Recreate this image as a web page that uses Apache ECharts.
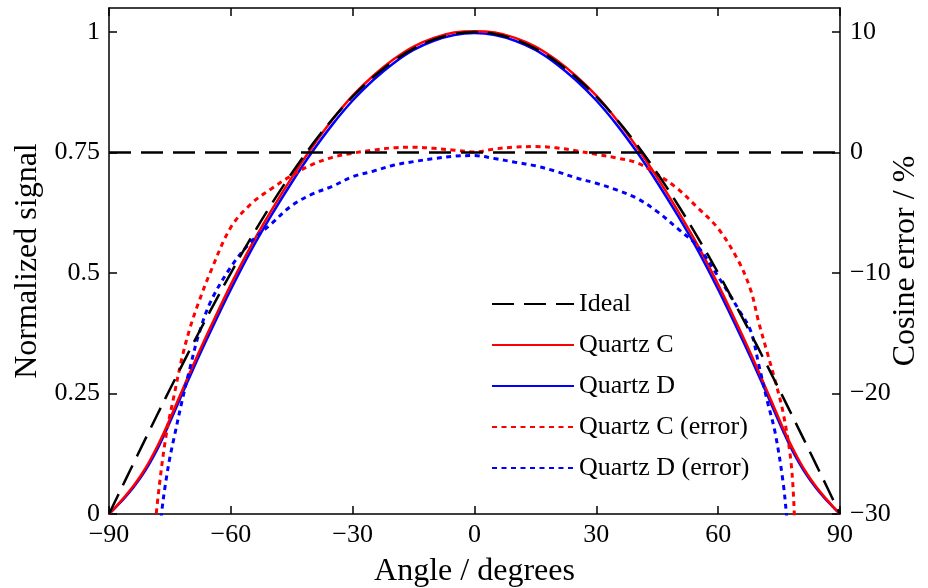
<!DOCTYPE html>
<html>
<head>
<meta charset="utf-8">
<script src="https://cdn.jsdelivr.net/npm/echarts@6/dist/echarts.min.js"></script>
<style>
  html, body { margin: 0; padding: 0; background: #fff; overflow: hidden; }
  #chart { width: 928px; height: 588px; }
</style>
</head>
<body>
<div id="chart"></div>
<script>
// Axis ticks
const xTicks = [-90, -60, -30, 0, 30, 60, 90];
const signalTicks = [0, 0.25, 0.5, 0.75, 1];
const errorTicks = [-30, -20, -10, 0, 10];

// Angular response (degrees) and normalized signal
const signalAngles = [-90, -88, -86, -84, -82, -80, -78, -76, -74, -72, -70, -68, -65, -60, -55, -50, -45, -40, -35, -30, -25, -20, -15, -10, -5, 0,
                      5, 10, 15, 20, 25, 30, 35, 40, 45, 50, 55, 60, 65, 68, 70, 72, 74, 76, 78, 80, 82, 84, 86, 88, 90];
const ideal = [0, 0.0349, 0.0698, 0.1045, 0.1392, 0.1736, 0.2079, 0.2419, 0.2756, 0.3090, 0.3420, 0.3746, 0.4226, 0.5, 0.5736, 0.6428, 0.7071, 0.7660, 0.8192, 0.8660, 0.9063, 0.9397, 0.9659, 0.9848, 0.9962, 1,
               0.9962, 0.9848, 0.9659, 0.9397, 0.9063, 0.8660, 0.8192, 0.7660, 0.7071, 0.6428, 0.5736, 0.5, 0.4226, 0.3746, 0.3420, 0.3090, 0.2756, 0.2419, 0.2079, 0.1736, 0.1392, 0.1045, 0.0698, 0.0349, 0];
const quartzC = [0, 0.018, 0.037, 0.058, 0.082, 0.110, 0.142, 0.178, 0.217, 0.256, 0.295, 0.333, 0.388, 0.476, 0.557, 0.630, 0.698, 0.761, 0.818, 0.868, 0.909, 0.943, 0.970, 0.988, 0.999, 1.002,
                 0.999, 0.988, 0.970, 0.943, 0.909, 0.868, 0.818, 0.761, 0.698, 0.630, 0.557, 0.476, 0.388, 0.333, 0.295, 0.256, 0.217, 0.178, 0.142, 0.110, 0.082, 0.058, 0.037, 0.018, 0];
const quartzD = [0, 0.017, 0.035, 0.055, 0.078, 0.105, 0.136, 0.172, 0.210, 0.249, 0.287, 0.325, 0.379, 0.466, 0.547, 0.620, 0.688, 0.751, 0.808, 0.858, 0.900, 0.935, 0.963, 0.982, 0.994, 0.998,
                 0.994, 0.982, 0.963, 0.935, 0.900, 0.858, 0.808, 0.751, 0.688, 0.620, 0.547, 0.466, 0.379, 0.325, 0.287, 0.249, 0.210, 0.172, 0.136, 0.105, 0.078, 0.055, 0.035, 0.017, 0];

// Cosine error (%)
const errCAngles = [-80, -79, -78, -76, -74, -72, -70, -68, -65, -60, -55, -50, -45, -40, -35, -30, -25, -20, -15, -10, -5, 0,
                    5, 10, 15, 20, 25, 30, 35, 40, 45, 50, 55, 60, 65, 68, 70, 72, 74, 76, 78, 79, 80];
const errC = [-37, -32.5, -28.8, -23.6, -20.2, -17.0, -14.5, -12.5, -9.9, -6.2, -4.25, -3.0, -1.9, -1.0, -0.4, -0.05, 0.2, 0.4, 0.45, 0.35, 0.2, 0.05,
              0.3, 0.45, 0.5, 0.4, 0.15, -0.15, -0.45, -0.85, -1.8, -3.0, -4.6, -6.3, -9.0, -11.4, -14.1, -16.5, -18.9, -21.6, -25.9, -31.8, -38];
const errDAngles = [-79, -78, -77, -76, -75, -74, -72, -70, -68, -65, -60, -55, -50, -45, -40, -35, -30, -25, -20, -15, -10, -5, 0,
                    5, 10, 15, 20, 25, 30, 35, 40, 45, 50, 55, 60, 65, 68, 70, 72, 74, 76, 77, 78];
const errD = [-39, -34, -29.8, -27.3, -25.3, -23.7, -20.6, -17.8, -15.2, -12.4, -9.5, -7.4, -5.9, -4.4, -3.45, -2.8, -2.0, -1.55, -1.05, -0.75, -0.5, -0.3, -0.25,
              -0.5, -0.8, -1.1, -1.55, -2.1, -2.55, -3.1, -3.8, -4.9, -6.3, -7.8, -10.3, -13.0, -14.8, -17.6, -20.5, -23.2, -27.4, -30.8, -35];
const idealErrAngles = [-90, 90];
const idealErr = [0, 0];

const pairs = (xs, ys) => xs.map((x, i) => [x, ys[i]]);
const minus = v => String(v).replace('-', '\u2212');

const FONT = 'Liberation Serif';
const axisLine = { show: true, onZero: false, lineStyle: { color: '#000', width: 1.5 } };
const axisTick = { show: true, inside: true, length: 8, lineStyle: { color: '#000', width: 1.5 } };
const labelStyle = { color: '#000', fontFamily: FONT, fontSize: 26 };
const nameStyle = { color: '#000', fontFamily: FONT, fontSize: 32 };

const DASH = [22, 10];
const DOT = [5, 4.5];
const NO_MARK = { color: 'rgba(0,0,0,0)', borderWidth: 0 };

const chart = echarts.init(document.getElementById('chart'), null, { renderer: 'canvas' });
chart.setOption({
  animation: false,
  backgroundColor: '#fff',
  grid: { left: 109, right: 88, top: 8, bottom: 74, containLabel: false, outerBoundsMode: 'none' },
  legend: {
    orient: 'vertical',
    left: 486,
    top: 286,
    itemWidth: 82,
    itemHeight: 14,
    itemGap: 15,
    textStyle: { color: '#000', fontFamily: FONT, fontSize: 26 },
    itemStyle: { color: 'rgba(0,0,0,0)', borderWidth: 0 },
    data: ['Ideal', 'Quartz C', 'Quartz D', 'Quartz C (error)', 'Quartz D (error)']
  },
  xAxis: [
    {
      type: 'value', position: 'bottom',
      min: xTicks[0], max: xTicks[xTicks.length - 1], interval: xTicks[1] - xTicks[0],
      name: 'Angle / degrees', nameLocation: 'middle', nameGap: 42, nameMoveOverlap: false, nameTextStyle: nameStyle,
      axisLine, axisTick,
      axisLabel: { ...labelStyle, margin: 8, formatter: minus },
      splitLine: { show: false }
    },
    {
      type: 'value', position: 'top',
      min: xTicks[0], max: xTicks[xTicks.length - 1], interval: xTicks[1] - xTicks[0],
      axisLine, axisTick, axisLabel: { show: false }, splitLine: { show: false }
    }
  ],
  yAxis: [
    {
      type: 'value', position: 'left',
      min: signalTicks[0], max: 1.05, interval: signalTicks[1] - signalTicks[0],
      name: 'Normalized signal', nameLocation: 'middle', nameGap: 65, nameMoveOverlap: false, nameTextStyle: nameStyle,
      axisLine, axisTick,
      axisLabel: { ...labelStyle, margin: 9, showMaxLabel: false, formatter: v => String(v) },
      splitLine: { show: false }
    },
    {
      type: 'value', position: 'right',
      min: errorTicks[0], max: 12, interval: errorTicks[1] - errorTicks[0],
      name: 'Cosine error / %', nameLocation: 'middle', nameGap: 50, nameMoveOverlap: false, nameTextStyle: nameStyle,
      axisLine, axisTick,
      axisLabel: { ...labelStyle, margin: 10, showMaxLabel: false, formatter: minus },
      splitLine: { show: false }
    }
  ],
  series: [
    {
      name: 'Quartz C', type: 'line', yAxisIndex: 0, smooth: 0.35, showSymbol: false, symbol: 'none',
      data: pairs(signalAngles, quartzC), z: 3,
      lineStyle: { color: '#ff0000', width: 2.5, type: 'solid' }, itemStyle: NO_MARK
    },
    {
      name: 'Quartz D', type: 'line', yAxisIndex: 0, smooth: 0.35, showSymbol: false, symbol: 'none',
      data: pairs(signalAngles, quartzD), z: 2,
      lineStyle: { color: '#0000ff', width: 2.5, type: 'solid' }, itemStyle: NO_MARK
    },
    {
      name: 'Quartz C (error)', type: 'line', yAxisIndex: 1, smooth: 0.35, showSymbol: false, symbol: 'none',
      data: pairs(errCAngles, errC), z: 4,
      lineStyle: { color: '#ff0000', width: 3, type: DOT }, itemStyle: NO_MARK
    },
    {
      name: 'Quartz D (error)', type: 'line', yAxisIndex: 1, smooth: 0.35, showSymbol: false, symbol: 'none',
      data: pairs(errDAngles, errD), z: 4,
      lineStyle: { color: '#0000ff', width: 3, type: DOT }, itemStyle: NO_MARK
    },
    {
      name: 'Ideal', type: 'line', yAxisIndex: 0, smooth: 0.35, showSymbol: false, symbol: 'none',
      data: pairs(signalAngles, ideal), z: 5,
      lineStyle: { color: '#000', width: 2.5, type: DASH }, itemStyle: NO_MARK
    },
    {
      name: 'Ideal error', type: 'line', yAxisIndex: 1, showSymbol: false, symbol: 'none',
      data: pairs(idealErrAngles, idealErr), z: 5,
      lineStyle: { color: '#000', width: 2.5, type: DASH }, itemStyle: NO_MARK
    }
  ]
});
</script>
</body>
</html>
